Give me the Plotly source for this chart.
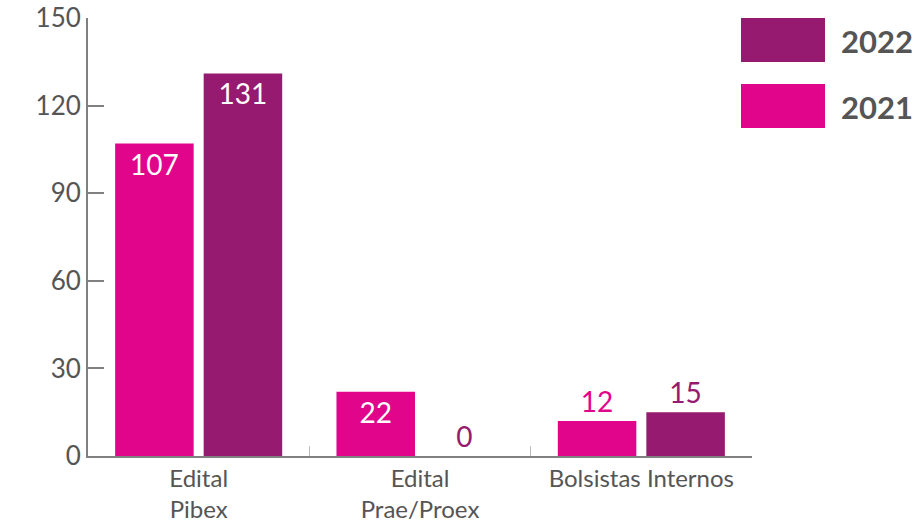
import plotly.graph_objects as go

categories = ["Edital<br>Pibex", "Edital<br>Prae/Proex", "Bolsistas Internos"]
values_2021 = [107, 22, 12]
values_2022 = [131, 0, 15]
series_names = ["2021", "2022"]
y_ticks = [0, 30, 60, 90, 120, 150]

c2021 = "#E1058B"
c2022 = "#961A6F"
grey = "#808080"
font = "Lato, sans-serif"

fig = go.Figure()
fig.add_trace(go.Bar(
    x=categories, y=values_2021, name=series_names[0],
    marker=dict(color=c2021, line=dict(width=0)),
    text=[str(v) for v in values_2021],
    textposition=["inside", "inside", "outside"],
    insidetextanchor="end",
    insidetextfont=dict(color="white", size=28, family=font),
    outsidetextfont=dict(color=c2021, size=28, family=font),
    cliponaxis=False,
))
fig.add_trace(go.Bar(
    x=categories, y=values_2022, name=series_names[1],
    marker=dict(color=c2022, line=dict(width=0)),
    text=[str(v) for v in values_2022],
    textposition=["inside", "outside", "outside"],
    insidetextanchor="end",
    insidetextfont=dict(color="white", size=28, family=font),
    outsidetextfont=dict(color=c2022, size=28, family=font),
    cliponaxis=False,
))

L, R, T, B = 88, 166, 18, 64
PW, PH = 918 - L - R, 520 - T - B

fig.update_layout(
    width=918, height=520,
    margin=dict(l=L, r=R, t=T, b=B, autoexpand=False),
    paper_bgcolor="white", plot_bgcolor="white",
    barmode="group", bargap=0.2, bargroupgap=0.113,
    showlegend=False,
    font=dict(family=font, color="#555555", size=24),
)
fig.update_yaxes(
    range=[0, 150], tickvals=y_ticks, showgrid=False, zeroline=False,
    showline=True, linecolor=grey, linewidth=2, automargin=False,
    ticks="inside", ticklen=16, tickwidth=2, tickcolor=grey,
    tickfont=dict(size=26, color="#555555", family=font),
)
fig.update_xaxes(
    showgrid=False, showline=True, linecolor=grey, linewidth=2, automargin=False,
    ticks="inside", tickson="boundaries", ticklen=10, tickwidth=1, tickcolor="#bbbbbb",
    tickfont=dict(size=24, color="#555555", family=font),
)

# Legend swatches (decoration)
legend_items = [(series_names[1], c2022), (series_names[0], c2021)]
for i, (name, color) in enumerate(legend_items):
    top = 18 + 66 * i
    fig.add_shape(type="rect", xref="paper", yref="paper",
                  x0=(741 - L) / PW, x1=(825 - L) / PW,
                  y0=(520 - B - (top + 44)) / PH, y1=(520 - B - top) / PH,
                  fillcolor=color, line=dict(width=0))
    fig.add_annotation(xref="paper", yref="paper",
                       x=(839 - L) / PW, y=(520 - B - (top + 23)) / PH,
                       text="<b>%s</b>" % name, showarrow=False,
                       xanchor="left", yanchor="middle",
                       font=dict(size=31, color="#555555", family=font))

fig.write_html("out.html",
               config={"displayModeBar": False},
               post_script="document.body.style.margin='0';document.body.style.overflow='hidden';")
